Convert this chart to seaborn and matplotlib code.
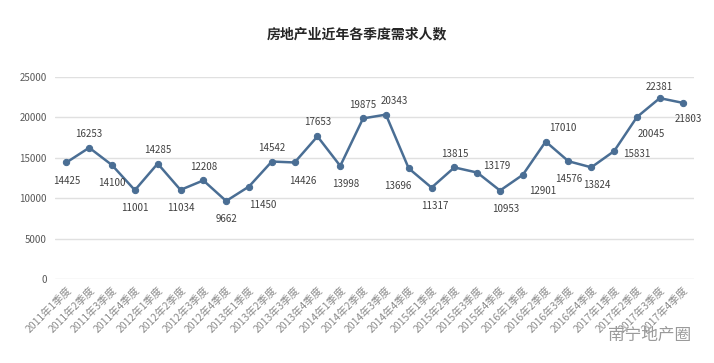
import pandas as pd
import matplotlib.pyplot as plt
import seaborn as sns

# data: quarterly demand headcount, real estate sector
years = ['2011', '2012', '2013', '2014', '2015', '2016', '2017']
quarters = ['1', '2', '3', '4']
labels = [f'{y}年{q}季度' for y in years for q in quarters]
values = [14425, 16253, 14100, 11001, 14285, 11034, 12208, 9662,
          11450, 14542, 14426, 17653, 13998, 19875, 20343, 13696,
          11317, 13815, 13179, 10953, 12901, 17010, 14576, 13824,
          15831, 20045, 22381, 21803]

# label placement (offset in points from the marker)
label_offsets = [(0, -13), (0, 10), (0, -13), (0, -13), (0, 10), (0, -13), (0, 10), (0, -13),
                 (10, -13), (0, 10), (6, -13), (0, 10), (4, -13), (0, 10), (6, 10), (-8, -13),
                 (2, -13), (0, 10), (14, 5), (4, -13), (14, -12), (12, 10), (0, -13), (4, -13),
                 (16, -2), (10, -12), (0, 8), (4, -12)]

df = pd.DataFrame({'idx': range(len(values)), 'label': labels, 'value': values})

sns.set_theme(style='white')
plt.rcParams['font.family'] = ['Noto Sans CJK SC', 'DejaVu Sans']

fig = plt.figure(figsize=(7.14, 3.63), dpi=100)
ax = fig.add_axes([0.077, 0.231, 0.895, 0.557])

line_color = '#4a6e94'
sns.lineplot(data=df, x='idx', y='value', ax=ax, color=line_color, linewidth=1.8,
             marker='o', markersize=4.5, markeredgecolor=line_color)

for i, v in enumerate(values):
    dx, dy = label_offsets[i]
    ax.annotate(str(v), (i, v), xytext=(dx, dy), textcoords='offset points',
                ha='center', va='center', fontsize=7, color='#404040')

ax.set_xlim(-0.5, len(values) - 0.5)
ax.set_ylim(0, 25000)
ax.set_yticks(range(0, 25001, 5000))
ax.set_yticklabels([str(t) for t in range(0, 25001, 5000)], fontsize=7, color='#595959')
ax.set_xticks(range(len(labels)))
ax.set_xticklabels(labels, rotation=45, ha='right', rotation_mode='anchor',
                   fontsize=7.5, color='#8c8c8c')
ax.tick_params(axis='y', length=0, pad=6)
ax.tick_params(axis='x', length=0, pad=4)
ax.grid(axis='y', color='#e0e0e0', linewidth=1)
ax.set_axisbelow(True)
for s in ax.spines.values():
    s.set_visible(False)
ax.set_xlabel('')
ax.set_ylabel('')

fig.text(0.5, 0.905, '房地产业近年各季度需求人数', ha='center', va='center',
         fontsize=10, fontweight='bold', color='#262626')
fig.text(0.968, 0.075, '南宁地产圈', ha='right', va='center', fontsize=12, color='#9a9a9a')

plt.savefig('out.png', dpi=100)
